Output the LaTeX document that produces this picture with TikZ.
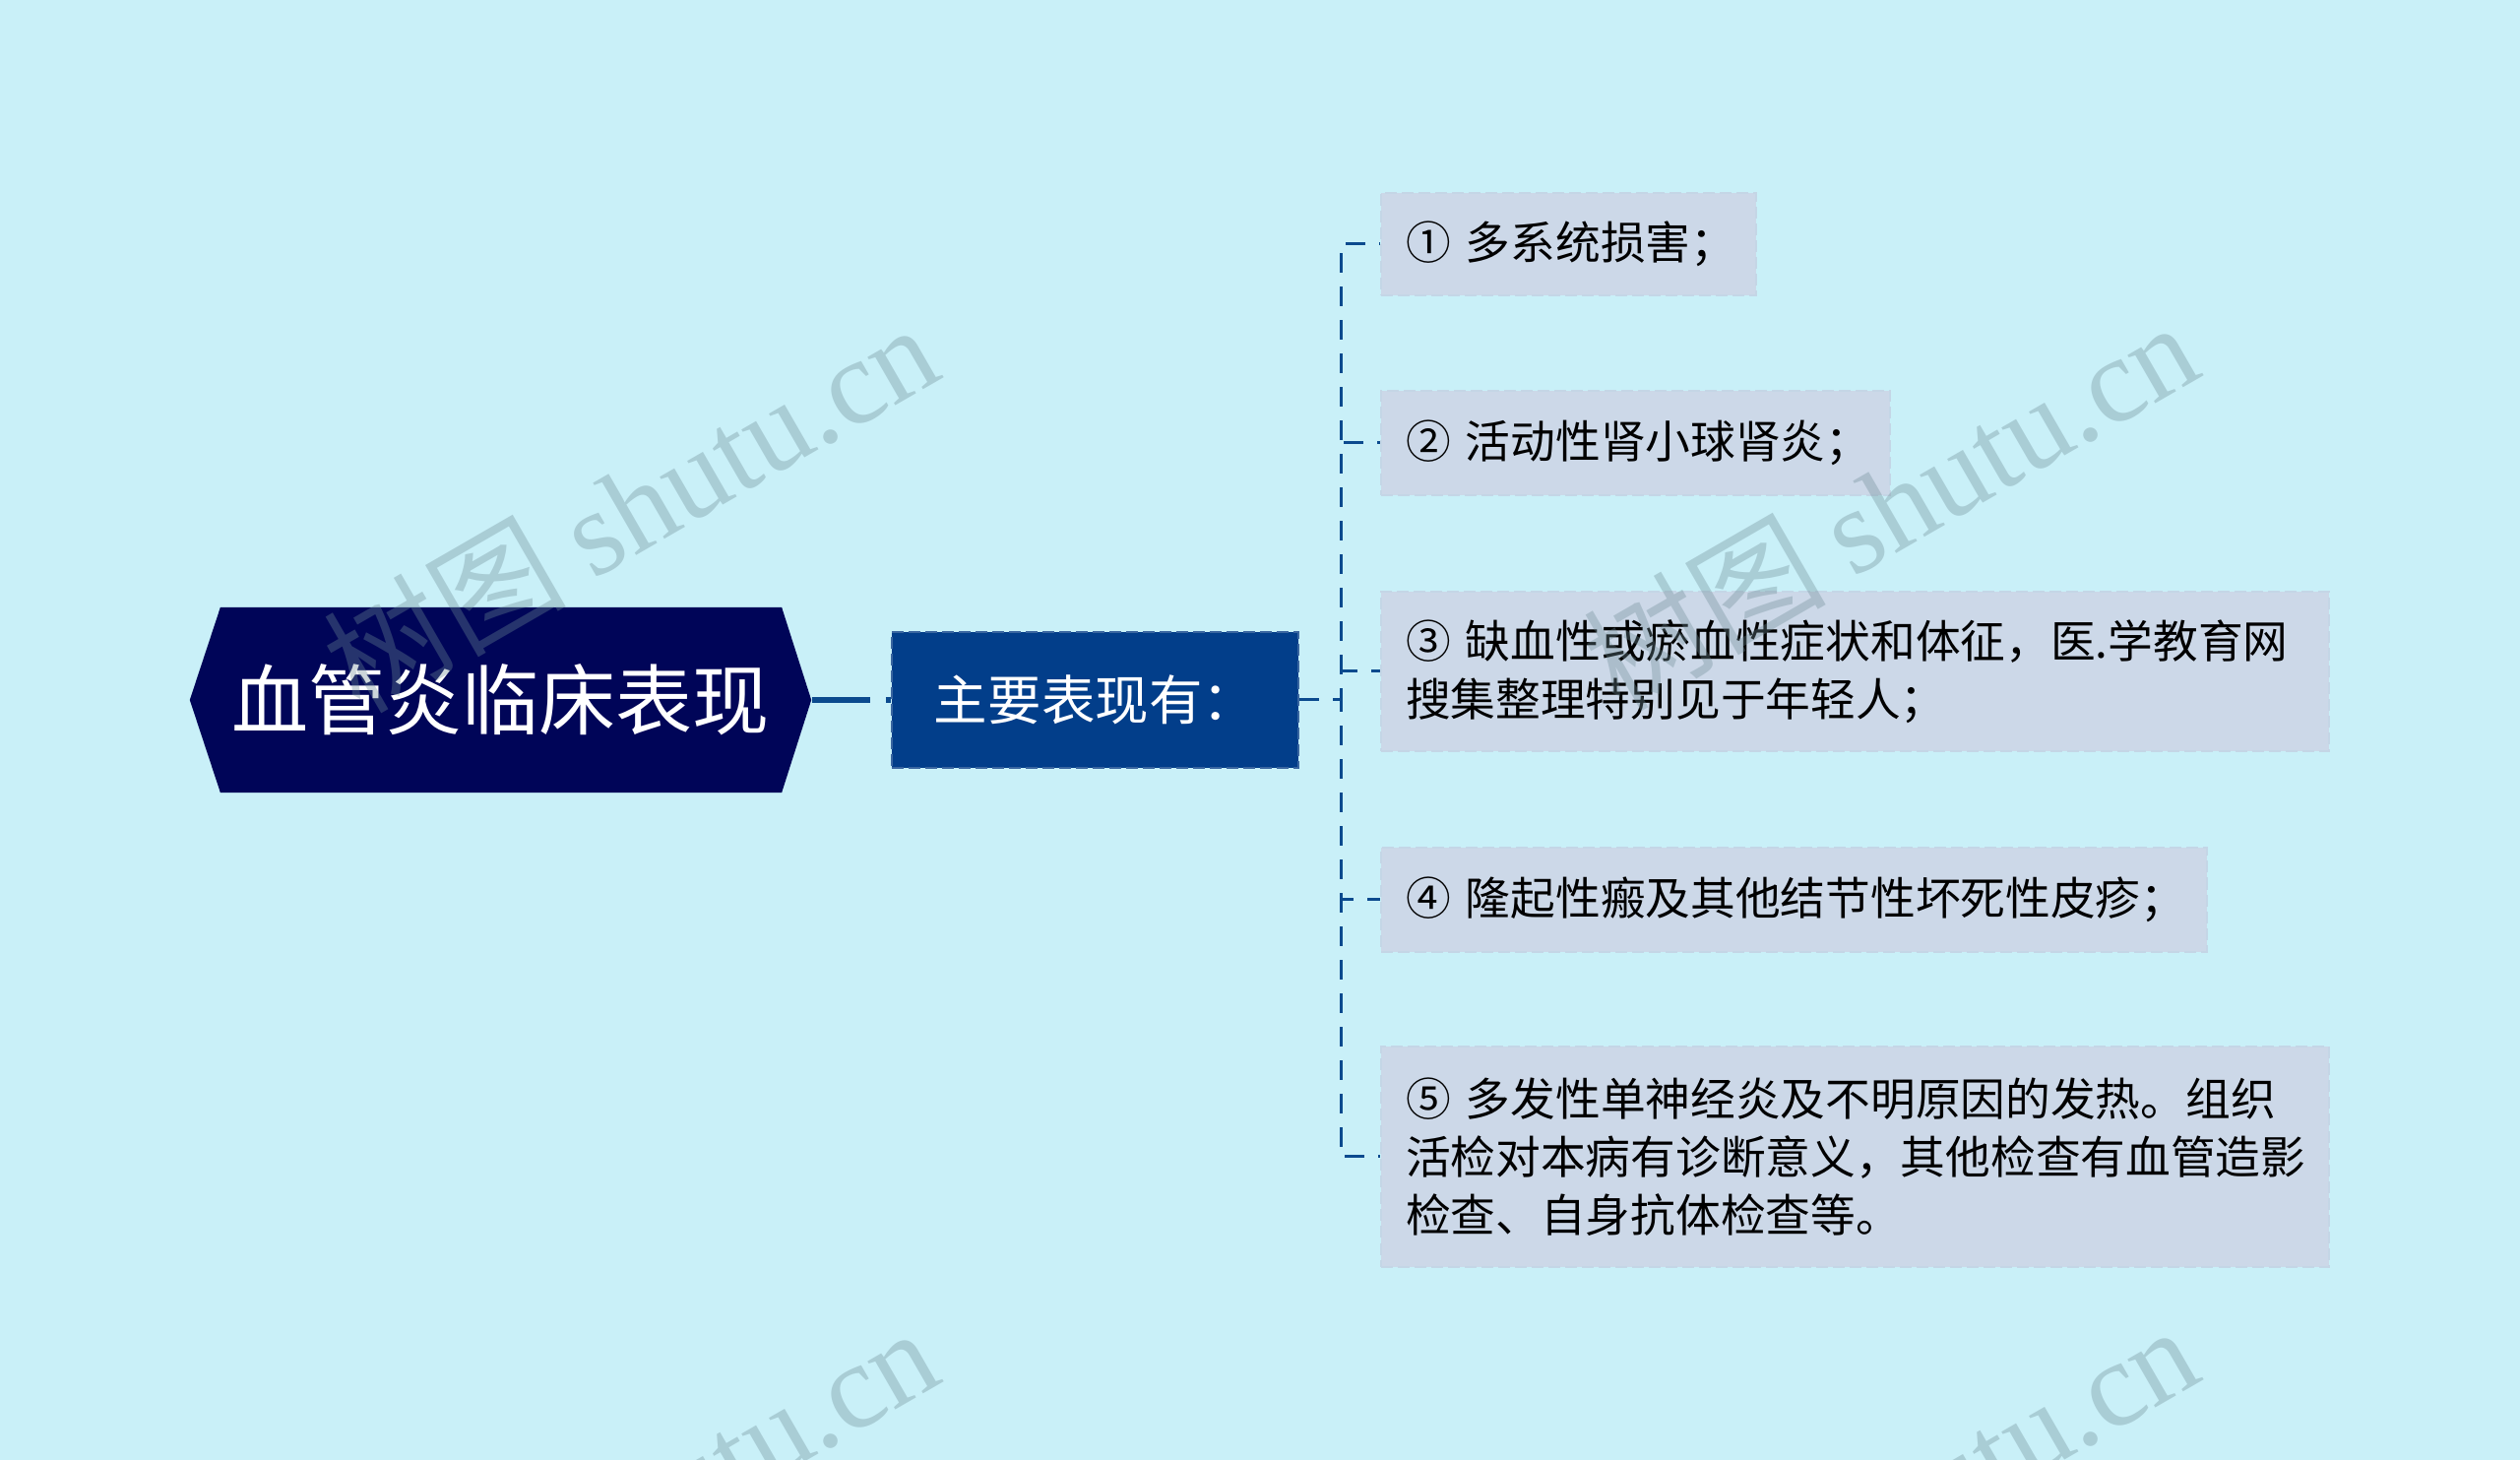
\documentclass[tikz,border=0pt]{standalone}
\usepackage{fontspec}
\setmainfont{Noto Sans CJK SC}
\newfontfamily\wmserif{Liberation Serif}
\usetikzlibrary{calc}
\definecolor{bg}{HTML}{C9F0F8}
\definecolor{rootc}{HTML}{000558}
\definecolor{midc}{HTML}{023E8A}
\definecolor{midborder}{HTML}{3A66A0}
\definecolor{leafc}{HTML}{CCD8E8}
\definecolor{leafborder}{HTML}{C4D6E6}
\definecolor{linec}{HTML}{0B4A8E}
\definecolor{wmc}{HTML}{6E8C96}
\tikzset{
  rootbox/.style={draw=none, minimum width=6.31cm, minimum height=1.88cm, inner sep=0pt,
    text=white, font=\fontsize{22.2pt}{26pt}\selectfont,
    path picture={\fill[rootc] (path picture bounding box.west)
      -- ([xshift=0.31cm]path picture bounding box.north west)
      -- ([xshift=-0.30cm]path picture bounding box.north east)
      -- (path picture bounding box.east)
      -- ([xshift=-0.30cm]path picture bounding box.south east)
      -- ([xshift=0.31cm]path picture bounding box.south west) -- cycle;}},
  midbox/.style={fill=midc, draw=midborder, line width=0.02cm, dash pattern=on 0.12cm off 0.05cm,
    minimum width=4.13cm, minimum height=1.38cm, inner sep=0pt,
    text=white, font=\fontsize{15.5pt}{18pt}\selectfont},
  leafbox/.style={fill=leafc, draw=leafborder, line width=0.02cm, dash pattern=on 0.12cm off 0.05cm,
    anchor=west, inner xsep=0.25cm, inner ysep=0pt, align=left, text=black,
    font=\fontsize{13pt}{16.8pt}\selectfont},
  link/.style={draw=linec, line width=0.03cm, dash pattern=on 0.2cm off 0.14cm},
  thicklink/.style={draw=linec, line width=0.06cm, dash pattern=on 0.59cm off 0.16cm},
  wm/.style={rotate=30, text=wmc, text opacity=0.35, inner sep=0pt,
    font=\fontsize{35pt}{38pt}\selectfont}
}
\begin{document}
\begin{tikzpicture}[x=0.01cm,y=-0.01cm]
\useasboundingbox (0,0) rectangle (2560,1483);
\fill[bg] (0,0) rectangle (2560,1483);

\node[rootbox] (root) at (508.5,711) {血管炎临床表现};
\node[midbox] (mid) at (1112.5,711) {主要表现有：};

\node[leafbox, text width=3.31cm, minimum height=1.04cm] (l1) at (1402,248) {①~多系统损害；};
\node[leafbox, text width=4.67cm, minimum height=1.06cm] (l2) at (1402,450) {②~活动性肾小球肾炎；};
\node[leafbox, text width=9.12cm, minimum height=1.61cm] (l3) at (1402,682) {③~缺血性或瘀血性症状和体征，医.学教育网\\搜集整理特别见于年轻人；};
\node[leafbox, text width=7.88cm, minimum height=1.05cm] (l4) at (1402,914) {④~隆起性瘢及其他结节性坏死性皮疹；};
\node[leafbox, text width=9.12cm, minimum height=2.23cm] (l5) at (1402,1175) {⑤~多发性单神经炎及不明原因的发热。组织\\活检对本病有诊断意义，其他检查有血管造影\\检查、自身抗体检查等。};

\coordinate (tr) at (1362,711);
\draw[thicklink] (root.east) -- (mid.west);
\foreach \n in {l1,l2,l3,l4,l5}{
  \draw[link] (mid.east) -- (tr) |- (\n.west);
}

\begin{scope}
\clip (0,0) rectangle (2560,1483);
\node[wm] (wm1) at (640,514) {树图 {\wmserif shutu.cn}};
\node[wm] (wm2) at (1920,512) {树图 {\wmserif shutu.cn}};
\node[wm] (wm3) at (640,1534) {树图 {\wmserif shutu.cn}};
\node[wm] (wm4) at (1920,1532) {树图 {\wmserif shutu.cn}};
\end{scope}
\end{tikzpicture}
\end{document}
